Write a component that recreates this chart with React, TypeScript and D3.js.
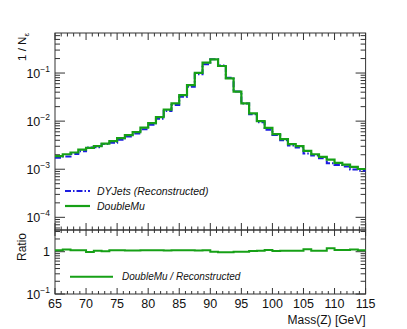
import React, { useEffect, useRef } from 'react';
import * as d3 from 'd3';

// bin edges in GeV (40 bins of 1.25 GeV)
const binEdges = [
  65, 66.25, 67.5, 68.75, 70, 71.25, 72.5, 73.75, 75, 76.25,
  77.5, 78.75, 80, 81.25, 82.5, 83.75, 85, 86.25, 87.5, 88.75,
  90, 91.25, 92.5, 93.75, 95, 96.25, 97.5, 98.75, 100, 101.25,
  102.5, 103.75, 105, 106.25, 107.5, 108.75, 110, 111.25, 112.5, 113.75, 115,
];

// DoubleMu, normalised
const doubleMu = [
  1.87e-3, 2.05e-3, 2.23e-3, 2.55e-3, 2.78e-3, 3.01e-3, 3.40e-3, 3.83e-3, 4.42e-3, 5.11e-3,
  5.90e-3, 7.32e-3, 9.08e-3, 1.21e-2, 1.74e-2, 2.34e-2, 3.48e-2, 5.62e-2, 1.01e-1, 1.64e-1,
  1.93e-1, 1.40e-1, 7.76e-2, 4.12e-2, 2.34e-2, 1.45e-2, 1.0e-2, 7.25e-3, 5.36e-3, 4.22e-3,
  3.32e-3, 3.01e-3, 2.41e-3, 2.05e-3, 1.80e-3, 1.59e-3, 1.35e-3, 1.25e-3, 1.12e-3, 1.01e-3,
];

// DoubleMu / Reconstructed
const ratio = [
  1.08, 1.12, 1.08, 1.08, 0.98, 1.05, 1.02, 1.08, 1.08, 1.07,
  1.07, 1.08, 1.08, 1.08, 1.07, 1.08, 1.08, 1.08, 1.07, 1.08,
  1.0, 0.97, 0.97, 1.0, 1.0, 1.04, 1.06, 1.10, 1.04, 1.06,
  1.06, 1.06, 1.14, 1.06, 1.06, 1.20, 1.10, 1.10, 1.13, 1.08,
];

const dyJets = doubleMu.map((v, i) => v / ratio[i]);

const xMajor = [65, 70, 75, 80, 85, 90, 95, 100, 105, 110, 115];
const topDecades = [-4, -3, -2, -1];
const ratioDecades = [-1, 0];

const font = 'Liberation Sans, Arial, Helvetica, sans-serif';
const green = '#16a016';
const blue = '#1c1ce0';
const frameColor = '#333';

export default function App() {
  const ref = useRef<SVGSVGElement>(null);

  useEffect(() => {
    const svg = d3.select(ref.current);
    svg.selectAll('*').remove();

    const left = 55, right = 365.6;
    const topY0 = 33, topY1 = 230;
    const botY0 = 230, botY1 = 294;

    const x = d3.scaleLinear().domain([65, 115]).range([left, right]);
    const y = d3.scaleLog().domain([5.45e-5, 0.68]).range([topY1, topY0]);
    const yr = d3.scaleLog().domain([0.1, 3.26]).range([botY1, botY0]);

    const xMinor = d3.range(65, 116, 1);

    // log minor ticks within a scale's domain
    const logTicks = (scale: any) => {
      const [lo, hi] = scale.domain();
      const out: { v: number; major: boolean }[] = [];
      for (let e = Math.floor(Math.log10(lo)); e <= Math.ceil(Math.log10(hi)); e++) {
        for (let m = 1; m < 10; m++) {
          const v = m * Math.pow(10, e);
          if (v >= lo * 0.999 && v <= hi * 1.001) out.push({ v, major: m === 1 });
        }
      }
      return out;
    };

    const drawPad = (ys: any, y0: number, y1: number, majLen: number, minLen: number, xMaj: number, xMin: number) => {
      const g = svg.append('g').attr('stroke', frameColor).attr('stroke-width', 1).attr('fill', 'none');
      g.append('rect').attr('x', left).attr('y', y0).attr('width', right - left).attr('height', y1 - y0);
      // x ticks top and bottom
      xMinor.forEach(v => {
        const len = v % 5 === 0 ? xMaj : xMin;
        g.append('line').attr('x1', x(v)).attr('x2', x(v)).attr('y1', y0).attr('y2', y0 + len);
        g.append('line').attr('x1', x(v)).attr('x2', x(v)).attr('y1', y1).attr('y2', y1 - len);
      });
      // y ticks left and right
      logTicks(ys).forEach(t => {
        const len = t.major ? majLen : minLen;
        const yy = ys(t.v);
        g.append('line').attr('x1', left).attr('x2', left + len).attr('y1', yy).attr('y2', yy);
        g.append('line').attr('x1', right).attr('x2', right - len).attr('y1', yy).attr('y2', yy);
      });
    };

    drawPad(y, topY0, topY1, 10, 5, 7, 3.5);
    drawPad(yr, botY0, botY1, 10, 5, 6, 3);

    // histograms
    const pts = (vals: number[]) => [...vals.map((v, i) => [binEdges[i], v]), [binEdges[40], vals[39]]] as [number, number][];
    const line = d3.line<[number, number]>().x(d => x(d[0])).y(d => y(d[1])).curve(d3.curveStepAfter);
    const lineR = d3.line<[number, number]>().x(d => x(d[0])).y(d => yr(d[1])).curve(d3.curveStepAfter);

    svg.append('path').attr('d', line(pts(dyJets))).attr('fill', 'none')
      .attr('stroke', blue).attr('stroke-width', 2).attr('stroke-dasharray', '6,2,1.5,2');
    svg.append('path').attr('d', line(pts(doubleMu))).attr('fill', 'none')
      .attr('stroke', green).attr('stroke-width', 2.2);
    svg.append('path').attr('d', lineR(pts(ratio))).attr('fill', 'none')
      .attr('stroke', green).attr('stroke-width', 2);

    // y labels
    const expLabel = (yy: number, e: number) => {
      if (e === 0) {
        svg.append('text').attr('x', 50).attr('y', yy + 4.5).attr('text-anchor', 'end')
          .attr('font-family', font).attr('font-size', 12.5).attr('fill', '#111').text('1');
        return;
      }
      const t = svg.append('text').attr('x', 50).attr('y', yy + 4.5).attr('text-anchor', 'end')
        .attr('font-family', font).attr('font-size', 12.5).attr('fill', '#111');
      t.append('tspan').text('10');
      t.append('tspan').attr('dy', -5.5).attr('font-size', 8.5).text(`\u2212${-e}`);
    };
    topDecades.forEach(e => expLabel(y(Math.pow(10, e)), e));
    ratioDecades.forEach(e => expLabel(yr(Math.pow(10, e)), e));

    // x labels
    svg.selectAll('text.xl').data(xMajor).join('text').attr('class', 'xl')
      .attr('x', d => x(d)).attr('y', 308).attr('text-anchor', 'middle')
      .attr('font-family', font).attr('font-size', 12.5).attr('fill', '#111').text(d => d);

    svg.append('text').attr('x', right).attr('y', 324).attr('text-anchor', 'end')
      .attr('font-family', font).attr('font-size', 12).attr('fill', '#111').text('Mass(Z) [GeV]');

    // axis titles
    const yt = svg.append('text').attr('transform', 'translate(26,33) rotate(-90)').attr('text-anchor', 'end')
      .attr('font-family', font).attr('font-size', 11.5).attr('fill', '#111');
    yt.append('tspan').text('1 / N');
    yt.append('tspan').attr('dy', 3).attr('font-size', 8).text('\u03b5');

    svg.append('text').attr('transform', 'translate(26,233) rotate(-90)').attr('text-anchor', 'end')
      .attr('font-family', font).attr('font-size', 12).attr('fill', '#111').text('Ratio');

    // legends
    svg.append('line').attr('x1', 65).attr('x2', 90).attr('y1', 191).attr('y2', 191)
      .attr('stroke', blue).attr('stroke-width', 2).attr('stroke-dasharray', '6,2,1.5,2');
    svg.append('text').attr('x', 97).attr('y', 194.5).attr('font-family', font).attr('font-style', 'italic')
      .attr('font-size', 10.5).attr('fill', '#111').text('DYJets (Reconstructed)');
    svg.append('line').attr('x1', 65).attr('x2', 90).attr('y1', 206).attr('y2', 206)
      .attr('stroke', green).attr('stroke-width', 2.2);
    svg.append('text').attr('x', 97).attr('y', 209.5).attr('font-family', font).attr('font-style', 'italic')
      .attr('font-size', 10.5).attr('fill', '#111').text('DoubleMu');

    svg.append('line').attr('x1', 70).attr('x2', 113).attr('y1', 276.7).attr('y2', 276.7)
      .attr('stroke', green).attr('stroke-width', 2);
    svg.append('text').attr('x', 122).attr('y', 280.3).attr('font-family', font).attr('font-style', 'italic')
      .attr('font-size', 10).attr('fill', '#111').text('DoubleMu / Reconstructed');
  }, []);

  return (
    <svg ref={ref} width={407} height={329}
      style={{ position: 'absolute', left: 0, top: 0, background: '#fff' }} />
  );
}
